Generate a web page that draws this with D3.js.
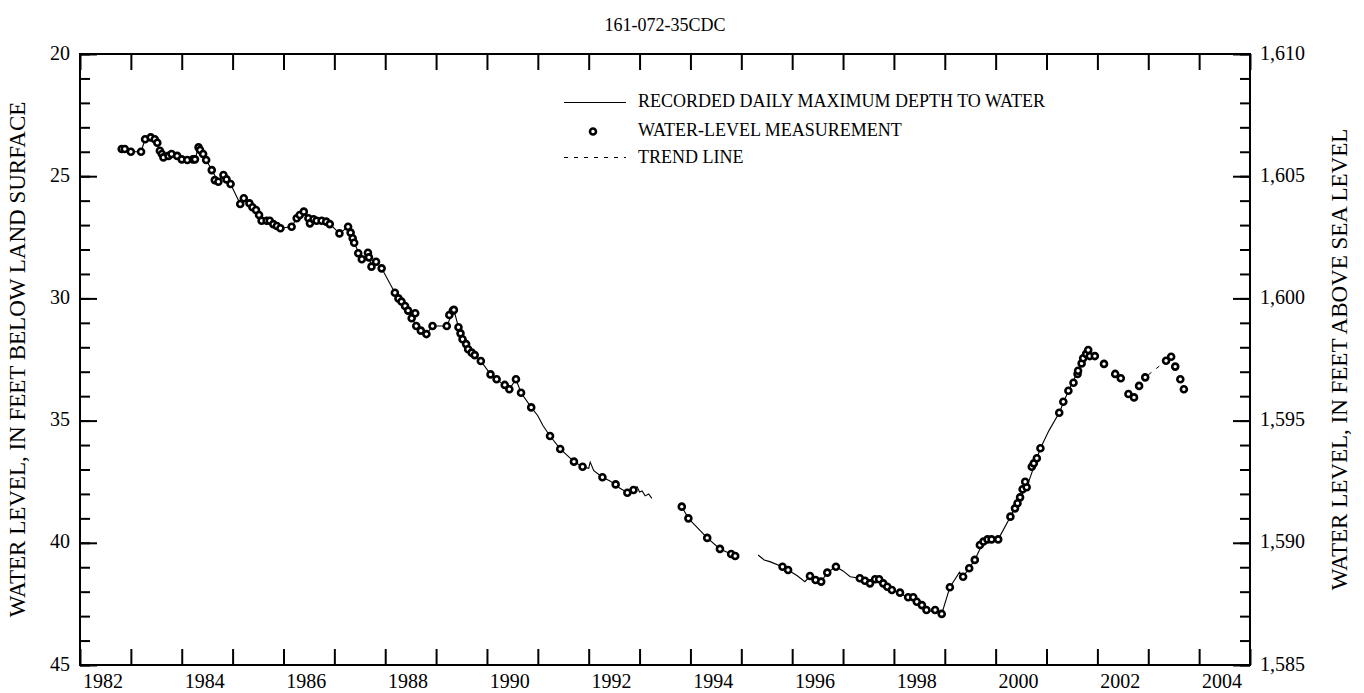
<!DOCTYPE html>
<html>
<head>
<meta charset="utf-8">
<script src="https://cdn.jsdelivr.net/npm/d3@7"></script>
<style>
  html, body { margin: 0; padding: 0; background: #fff; }
  svg { display: block; }
  svg text { font-family: "Liberation Serif", "Times New Roman", Times, serif; fill: #000; }
</style>
</head>
<body>
<svg id="chart" width="1364" height="693"></svg>
<script>
// ---------------- DATA ----------------
const chartTitle = "161-072-35CDC";
const leftTitle = "WATER LEVEL, IN FEET BELOW LAND SURFACE";
const rightTitle = "WATER LEVEL, IN FEET ABOVE SEA LEVEL";
const landSurfaceAltitude = 1630;

const xTickYears = d3.range(1982, 2006);
const xLabelYears = [1982, 1984, 1986, 1988, 1990, 1992, 1994, 1996, 1998, 2000, 2002, 2004];
const yMajorTicks = [20, 25, 30, 35, 40, 45];
const yMinorTicks = d3.range(20, 46);

// water-level measurements (decimal year, depth in feet)
const measYears = [
  1982.82, 1982.88, 1983.00, 1983.20, 1983.28, 1983.39, 1983.47, 1983.52, 1983.57, 1983.61,
  1983.64, 1983.74, 1983.80, 1983.91, 1984.00, 1984.11, 1984.22, 1984.26, 1984.33, 1984.36,
  1984.42, 1984.48, 1984.59, 1984.65, 1984.72, 1984.82, 1984.88, 1984.96, 1985.15, 1985.22,
  1985.33, 1985.39, 1985.46, 1985.52, 1985.57, 1985.67, 1985.73, 1985.80, 1985.87, 1985.94,
  1986.16, 1986.26, 1986.32, 1986.40, 1986.49, 1986.52, 1986.59, 1986.65, 1986.75, 1986.84,
  1986.91, 1987.10, 1987.27, 1987.32, 1987.36, 1987.39, 1987.47, 1987.54, 1987.66, 1987.68,
  1987.73, 1987.82, 1987.93,
  1988.19, 1988.26, 1988.32, 1988.39, 1988.45, 1988.52, 1988.59, 1988.61, 1988.70, 1988.81,
  1988.93, 1989.21, 1989.26, 1989.33, 1989.35, 1989.44, 1989.48, 1989.52, 1989.59, 1989.63,
  1989.70, 1989.76, 1989.88, 1990.07, 1990.19, 1990.35, 1990.44, 1990.57, 1990.67, 1990.87,
  1991.24, 1991.44, 1991.71, 1991.88, 1992.27, 1992.53, 1992.76, 1992.88,
  1993.83, 1993.96, 1994.33, 1994.58, 1994.80, 1994.88,
  1995.81, 1995.92, 1996.35, 1996.46, 1996.57, 1996.69, 1996.86,
  1997.33, 1997.43, 1997.53, 1997.63, 1997.71, 1997.79, 1997.87, 1997.96, 1998.12, 1998.28,
  1998.38, 1998.45, 1998.55, 1998.64, 1998.81, 1998.94, 1999.10, 1999.36, 1999.48, 1999.59,
  1999.69, 1999.76, 1999.84, 1999.92, 2000.05, 2000.29, 2000.38, 2000.43, 2000.48, 2000.53,
  2000.61, 2000.58, 2000.71, 2000.75, 2000.81, 2000.88, 2001.25, 2001.33, 2001.43, 2001.53,
  2001.61, 2001.62, 2001.69, 2001.72, 2001.78, 2001.82, 2001.85, 2001.95,
  2002.13, 2002.35, 2002.46, 2002.61, 2002.72, 2002.82, 2002.94,
  2003.35, 2003.45, 2003.53, 2003.63, 2003.70
];
const measDepths = [
  23.89, 23.89, 24.00, 24.00, 23.49, 23.41, 23.49, 23.63, 23.96, 24.09,
  24.23, 24.17, 24.09, 24.17, 24.31, 24.34, 24.31, 24.31, 23.82, 23.93,
  24.09, 24.34, 24.75, 25.16, 25.23, 24.95, 25.13, 25.32, 26.14, 25.90,
  26.11, 26.27, 26.38, 26.59, 26.82, 26.82, 26.82, 26.96, 27.04, 27.13,
  27.07, 26.72, 26.59, 26.45, 26.72, 26.93, 26.76, 26.82, 26.82, 26.86,
  26.96, 27.34, 27.07, 27.31, 27.54, 27.72, 28.15, 28.40, 28.13, 28.32,
  28.70, 28.50, 28.77,
  29.77, 30.00, 30.13, 30.31, 30.50, 30.81, 30.61, 31.13, 31.32, 31.46,
  31.13, 31.13, 30.68, 30.50, 30.47, 31.18, 31.43, 31.67, 31.87, 32.08,
  32.22, 32.32, 32.56, 33.11, 33.31, 33.54, 33.72, 33.31, 33.86, 34.46,
  35.63, 36.16, 36.68, 36.89, 37.32, 37.61, 37.95, 37.84,
  38.52, 39.00, 39.80, 40.25, 40.46, 40.54,
  40.98, 41.11, 41.36, 41.52, 41.59, 41.22, 40.98,
  41.45, 41.55, 41.66, 41.49, 41.49, 41.66, 41.80, 41.93, 42.04, 42.23,
  42.23, 42.41, 42.55, 42.75, 42.75, 42.91, 41.82, 41.39, 41.04, 40.70,
  40.09, 39.95, 39.86, 39.86, 39.86, 38.93, 38.59, 38.38, 38.14, 37.81,
  37.73, 37.50, 36.89, 36.75, 36.54, 36.13, 34.68, 34.23, 33.78, 33.45,
  33.09, 32.96, 32.66, 32.45, 32.27, 32.11, 32.36, 32.36,
  32.68, 33.09, 33.27, 33.91, 34.05, 33.58, 33.23,
  32.55, 32.39, 32.79, 33.31, 33.72
];

// recorded daily maximum depth to water (null = no record)
const recYears = [
  1982.82, 1982.88, 1983.00, 1983.20, 1983.28, 1983.39, 1983.47, 1983.52, 1983.57, 1983.64,
  1983.74, 1983.80, 1983.91, 1984.00, 1984.11, 1984.26, 1984.33, 1984.36, 1984.48, 1984.59,
  1984.72, 1984.82, 1984.96, 1985.15, 1985.22, 1985.39, 1985.57, 1985.80, 1985.94, 1986.16,
  1986.26, 1986.40, 1986.52, 1986.65, 1986.91, 1987.10, 1987.27, 1987.39, 1987.54, 1987.66,
  1987.73, 1987.82, 1987.93, 1988.19, 1988.45, 1988.61, 1988.81, 1988.93, 1989.21, 1989.35,
  1989.44, 1989.63, 1989.88, 1990.07, 1990.44, 1990.57, 1990.67, 1990.87, 1991.00, 1991.10,
  1991.24, 1991.44, 1991.71, 1991.88, 1992.00, 1992.03, 1992.10, 1992.27, 1992.40, 1992.53,
  1992.60, 1992.76, 1992.88, 1992.95, 1993.00, 1993.05, 1993.11, 1993.18, 1993.24,
  null,
  1993.83, 1993.96, 1994.33, 1994.58, 1994.80, 1994.88,
  null,
  1995.33, 1995.45, 1995.56, 1995.81, 1995.92, 1996.10, 1996.25, 1996.35, 1996.57, 1996.69,
  1996.86, 1997.00, 1997.14, 1997.33, 1997.53, 1997.63, 1997.71, 1997.96, 1998.28, 1998.64,
  1998.94, 1999.10, 1999.29, 1999.36, 1999.59, 1999.76, 2000.05, 2000.29, 2000.48, 2000.61,
  2000.88, 2001.05, 2001.25, 2001.43, 2001.62, 2001.82, 2001.85, 2001.95
];
const recDepths = [
  23.89, 23.89, 24.00, 24.00, 23.49, 23.41, 23.49, 23.63, 23.96, 24.23,
  24.17, 24.09, 24.17, 24.31, 24.34, 24.31, 23.82, 23.93, 24.34, 24.75,
  25.23, 24.95, 25.32, 26.14, 25.90, 26.27, 26.82, 26.96, 27.13, 27.07,
  26.72, 26.45, 26.93, 26.82, 26.96, 27.34, 27.07, 27.72, 28.40, 28.13,
  28.70, 28.50, 28.77, 29.77, 30.50, 31.13, 31.46, 31.13, 31.13, 30.47,
  31.18, 32.08, 32.56, 33.11, 33.72, 33.31, 33.86, 34.46, 34.80, 35.20,
  35.63, 36.16, 36.68, 36.89, 36.95, 36.70, 37.05, 37.32, 37.45, 37.61,
  37.75, 37.95, 37.84, 37.70, 37.92, 37.88, 38.08, 38.00, 38.18,
  null,
  38.52, 39.00, 39.80, 40.25, 40.46, 40.54,
  null,
  40.50, 40.70, 40.77, 40.98, 41.11, 41.35, 41.59, 41.36, 41.59, 41.22,
  40.98, 41.15, 41.39, 41.45, 41.66, 41.49, 41.49, 41.93, 42.23, 42.75,
  42.91, 41.82, 41.20, 41.39, 40.70, 39.95, 39.86, 38.93, 38.14, 37.73,
  36.13, 35.40, 34.68, 33.78, 32.96, 32.11, 32.36, 32.36
];

// trend line (dashed)
const trendYears = [2002.94, 2003.35];
const trendDepths = [33.23, 32.55];

// ---------------- LAYOUT ----------------
const FONT = "'Liberation Serif', 'Times New Roman', Times, serif";
const svg = d3.select("#chart");
const plot = { left: 80, right: 1250, top: 54, bottom: 665 };

const x = d3.scaleLinear().domain([1982, 2005]).range([plot.left, plot.right]);
const y = d3.scaleLinear().domain([20, 45]).range([plot.top, plot.bottom]);
const yRight = d3.scaleLinear()
  .domain([landSurfaceAltitude - 20, landSurfaceAltitude - 45])
  .range([plot.top, plot.bottom]);

const fmtComma = d3.format(",");

// Title
svg.append("text")
  .attr("x", (plot.left + plot.right) / 2)
  .attr("y", 31)
  .attr("text-anchor", "middle")
  .attr("font-family", FONT)
  .attr("font-size", 18)
  .text(chartTitle);

function styleAxis(g) {
  g.attr("font-family", FONT);
  g.selectAll(".domain").remove();
  g.selectAll("line").attr("stroke", "#000").attr("stroke-width", 2);
}

// bottom / top yearly ticks (inward)
svg.append("g")
  .attr("transform", `translate(0,${plot.bottom})`)
  .call(d3.axisBottom(x).tickValues(xTickYears).tickSize(-16).tickFormat(""))
  .call(styleAxis);
svg.append("g")
  .attr("transform", `translate(0,${plot.top})`)
  .call(d3.axisTop(x).tickValues(xTickYears).tickSize(-16).tickFormat(""))
  .call(styleAxis);

// x labels (centered within the labelled year)
svg.append("g").selectAll("text")
  .data(xLabelYears)
  .join("text")
  .attr("x", d => x(d + 0.45))
  .attr("y", 688)
  .attr("text-anchor", "middle")
  .attr("font-family", FONT)
  .attr("font-size", 20)
  .text(d => d);

// left minor + major ticks
svg.append("g")
  .attr("transform", `translate(${plot.left},0)`)
  .call(d3.axisLeft(y).tickValues(yMinorTicks).tickSize(-10).tickFormat(""))
  .call(styleAxis);
svg.append("g")
  .attr("transform", `translate(${plot.left},0)`)
  .call(d3.axisLeft(y).tickValues(yMajorTicks).tickSize(-17).tickPadding(10).tickFormat(d => d))
  .call(styleAxis)
  .call(g => g.selectAll("text").attr("font-size", 20).attr("font-family", FONT).attr("fill", "#000").attr("dy", "0.25em"));

// right minor + major ticks
const rightMinor = yMinorTicks.map(d => landSurfaceAltitude - d);
const rightMajor = yMajorTicks.map(d => landSurfaceAltitude - d);
svg.append("g")
  .attr("transform", `translate(${plot.right},0)`)
  .call(d3.axisRight(yRight).tickValues(rightMinor).tickSize(-10).tickFormat(""))
  .call(styleAxis);
svg.append("g")
  .attr("transform", `translate(${plot.right},0)`)
  .call(d3.axisRight(yRight).tickValues(rightMajor).tickSize(-17).tickPadding(10).tickFormat(fmtComma))
  .call(styleAxis)
  .call(g => g.selectAll("text").attr("font-size", 20).attr("font-family", FONT).attr("fill", "#000").attr("dy", "0.25em"));

// frame
svg.append("rect")
  .attr("x", plot.left).attr("y", plot.top)
  .attr("width", plot.right - plot.left).attr("height", plot.bottom - plot.top)
  .attr("fill", "none").attr("stroke", "#000").attr("stroke-width", 2);

// axis titles
svg.append("text")
  .attr("transform", `translate(25,${(plot.top + plot.bottom) / 2}) rotate(-90)`)
  .attr("text-anchor", "middle")
  .attr("font-family", FONT)
  .attr("font-size", 23)
  .text(leftTitle);
svg.append("text")
  .attr("transform", `translate(1347,${(plot.top + plot.bottom) / 2}) rotate(-90)`)
  .attr("text-anchor", "middle")
  .attr("font-family", FONT)
  .attr("font-size", 23)
  .text(rightTitle);

// recorded line
const recData = recYears.map((yr, i) => ({ yr, d: recDepths[i] }));
svg.append("path")
  .datum(recData)
  .attr("fill", "none")
  .attr("stroke", "#000")
  .attr("stroke-width", 1.1)
  .attr("d", d3.line()
    .defined(p => p.yr !== null && p.d !== null)
    .x(p => x(p.yr)).y(p => y(p.d)));

// trend line
const trendData = trendYears.map((yr, i) => ({ yr, d: trendDepths[i] }));
svg.append("path")
  .datum(trendData)
  .attr("fill", "none")
  .attr("stroke", "#000")
  .attr("stroke-width", 1)
  .attr("stroke-dasharray", "4,6")
  .attr("stroke-dashoffset", -4)
  .attr("d", d3.line().x(p => x(p.yr)).y(p => y(p.d)));

// measurements
const measData = measYears.map((yr, i) => ({ yr, d: measDepths[i] }));
svg.append("g").selectAll("circle")
  .data(measData)
  .join("circle")
  .attr("cx", p => x(p.yr))
  .attr("cy", p => y(p.d))
  .attr("r", 3)
  .attr("fill", "#fff")
  .attr("stroke", "#000")
  .attr("stroke-width", 2.6);

// legend
const legend = svg.append("g").attr("font-size", 18).attr("font-family", FONT);
legend.append("line").attr("x1", 564).attr("x2", 626).attr("y1", 102.5).attr("y2", 102.5)
  .attr("stroke", "#000").attr("stroke-width", 1.1);
legend.append("text").attr("x", 638).attr("y", 107).text("RECORDED DAILY MAXIMUM DEPTH TO WATER");
legend.append("circle").attr("cx", 593).attr("cy", 131.5).attr("r", 3)
  .attr("fill", "#fff").attr("stroke", "#000").attr("stroke-width", 2.6);
legend.append("text").attr("x", 638).attr("y", 135.5).text("WATER-LEVEL MEASUREMENT");
legend.append("line").attr("x1", 564).attr("x2", 626).attr("y1", 157.5).attr("y2", 157.5)
  .attr("stroke", "#000").attr("stroke-width", 1).attr("stroke-dasharray", "4,6");
legend.append("text").attr("x", 638).attr("y", 163).text("TREND LINE");
</script>
</body>
</html>
